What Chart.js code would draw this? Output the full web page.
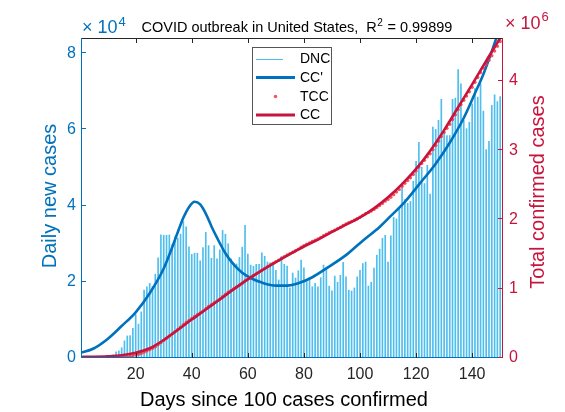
<!DOCTYPE html>
<html><head><meta charset="utf-8">
<script src="https://cdn.jsdelivr.net/npm/chart.js@4/dist/chart.umd.min.js"></script>
<style>html,body{margin:0;padding:0;background:#fff}#wrap{width:565px;height:412px;position:relative}</style>
</head><body><div id="wrap"><canvas id="c" width="565" height="412"></canvas></div>
<script>
// ---- data ----
const firstDay = 1;
// Daily new cases (thousands), days 1..150
const dnc = [0.03,0.06,0.08,0.10,0.12,0.16,0.28,0.27,0.40,0.55,
 0.65,0.85,1.6,1.9,2.7,4.5,5.8,5.9,7.8,11.4,
 8.9,12.1,17.8,18.7,19.6,18.8,22.0,26.3,32.3,32.2,
 32.2,32.3,29.8,31.8,31.5,32.5,35.8,34.4,29.2,27.2,
 27.5,27.5,25.5,29.0,33.0,29.5,26.2,29.5,26.0,28.4,
 33.5,32.5,30.0,26.0,24.9,24.7,26.4,29.1,34.8,27.3,
 24.4,24.1,24.6,24.6,27.6,26.7,25.2,25.0,24.8,23.0,
 20.5,26.6,24.6,24.1,18.4,22.3,21.0,22.9,25.7,23.7,
 20.0,21.0,18.7,19.6,18.7,21.1,24.4,23.5,18.9,17.6,
 21.5,19.9,21.7,25.1,21.3,17.8,17.6,18.4,21.3,23.0,
 24.8,25.2,18.9,19.9,23.6,27.0,28.6,31.4,32.2,25.2,
 32.1,36.9,36.5,39.0,45.9,41.6,40.6,41.1,46.4,51.6,
 56.6,50.1,45.8,50.6,43.0,60.6,60.0,62.4,67.9,59.7,
 58.4,58.4,67.9,68.2,75.7,72.0,62.4,60.2,61.9,66.7,
 70.7,68.5,72.0,64.8,54.7,56.9,66.3,69.1,67.3,68.6];
// Total confirmed cases (thousands), days 1..150
const tcc = [0.13,0.19,0.27,0.37,0.49,0.65,0.93,1.2,1.6,2.15,
 2.8,3.65,5.25,7.15,9.85,14.4,20.2,26.1,33.9,45.3,
 54.2,66.3,84.1,102.8,122.4,141.2,163.2,189.5,221.8,254,
 286.2,318.5,348.3,380.1,411.6,444.1,479.9,514.3,543.5,570.7,
 598.2,625.7,651.2,680.2,713.2,742.7,768.9,798.4,824.4,852.8,
 886.3,918.8,948.8,974.8,999.7,1024.4,1050.8,1079.9,1114.7,1142,
 1166.4,1190.5,1215.1,1239.7,1267.3,1294,1319.2,1344.2,1369,1392,
 1412.5,1439.1,1463.7,1487.8,1506.2,1528.5,1549.5,1572.4,1598.1,1621.8,
 1641.8,1662.8,1681.5,1701.1,1719.8,1740.9,1765.3,1788.8,1807.7,1825.3,
 1846.8,1866.7,1888.4,1913.5,1934.8,1952.6,1970.2,1988.6,2009.9,2032.9,
 2057.7,2082.9,2101.8,2121.7,2145.3,2172.3,2200.9,2232.3,2264.5,2289.7,
 2321.8,2358.7,2395.2,2434.2,2480.1,2521.7,2562.3,2603.4,2649.8,2701.4,
 2758,2808.1,2853.9,2904.5,2947.5,3008.1,3068.1,3130.5,3198.4,3258.1,
 3316.5,3374.9,3442.8,3511,3586.7,3658.7,3721.1,3781.3,3843.2,3909.9,
 3980.6,4049.1,4121.1,4185.9,4240.6,4297.5,4363.8,4432.9,4500.2,4568.8];
// Fitted curve CC' (thousands per day), sampled days
const ccpDays = [0,5,10,15,20,25,30,33,35,37,39,41,43,45,47,49,52,55,58,61,65,70,74,78,83,89,95,101,107,111,116,121,127,132,137,141,144,147,150];
const ccpVals = [1.3,2.5,5.0,8.4,12.0,17.0,23.5,29.0,33.0,36.8,39.6,41.0,40.3,37.9,34.6,31.6,27.5,24.5,22.4,21.0,19.8,19.0,19.0,19.6,21.2,24.0,27.0,30.8,34.4,37.3,41.0,45.5,51.0,56.5,63.0,69.5,74.5,80.5,87.0];
// Fitted curve CC (millions), sampled days
const ccDays = [0,5,10,15,20,25,30,35,40,45,50,55,60,65,70,75,80,85,90,95,100,105,110,115,120,125,130,135,140,145,150,151];
const ccVals = [0.015,0.018,0.025,0.04,0.075,0.14,0.26,0.405,0.555,0.70,0.845,0.995,1.135,1.265,1.385,1.50,1.61,1.71,1.82,1.925,2.03,2.16,2.32,2.51,2.73,2.99,3.29,3.62,3.95,4.29,4.62,4.69];
const xTicks = [20,40,60,80,100,120,140];
const yLeftTicks = [0,2,4,6,8];   // x10^4
const yRightTicks = [0,1,2,3,4];  // x10^6

const BLUE = '#0072BD', LBLUE = '#4DBEEE', CRIMSON = '#C8143C', TCCCOL = 'rgba(244,56,66,0.85)', DARK = '#262626';
const FONT = '"Liberation Sans", Arial, Helvetica, sans-serif';

const decor = {
  id: 'decor',
  afterDatasetsDraw(chart) {
    const ctx = chart.ctx, a = chart.chartArea;
    const xs = chart.scales.x, yl = chart.scales.y, yr = chart.scales.y2;
    ctx.save();
    ctx.lineWidth = 1;
    // top border
    ctx.strokeStyle = DARK;
    ctx.beginPath(); ctx.moveTo(a.left, a.top + 0.5); ctx.lineTo(a.right, a.top + 0.5); ctx.stroke();
    xTicks.forEach(v => { const px = Math.round(xs.getPixelForValue(v)) + 0.5;
      ctx.beginPath(); ctx.moveTo(px, a.top); ctx.lineTo(px, a.top + 5); ctx.stroke(); });
    // bottom
    ctx.strokeStyle = BLUE;
    ctx.beginPath(); ctx.moveTo(a.left, a.bottom - 0.5); ctx.lineTo(a.right, a.bottom - 0.5); ctx.stroke();
    ctx.strokeStyle = DARK;
    xTicks.forEach(v => { const px = Math.round(xs.getPixelForValue(v)) + 0.5;
      ctx.beginPath(); ctx.moveTo(px, a.bottom); ctx.lineTo(px, a.bottom - 5); ctx.stroke(); });
    // left axis
    ctx.strokeStyle = BLUE;
    ctx.beginPath(); ctx.moveTo(a.left + 0.5, a.top); ctx.lineTo(a.left + 0.5, a.bottom); ctx.stroke();
    yLeftTicks.forEach(v => { const py = Math.round(yl.getPixelForValue(v * 1e4)) - 0.5;
      ctx.beginPath(); ctx.moveTo(a.left, py); ctx.lineTo(a.left + 5, py); ctx.stroke(); });
    // right axis
    ctx.strokeStyle = CRIMSON;
    ctx.beginPath(); ctx.moveTo(a.right - 0.5, a.top); ctx.lineTo(a.right - 0.5, a.bottom); ctx.stroke();
    yRightTicks.forEach(v => { const py = Math.round(yr.getPixelForValue(v * 1e6)) - 0.5;
      ctx.beginPath(); ctx.moveTo(a.right, py); ctx.lineTo(a.right - 5, py); ctx.stroke(); });

    // title
    ctx.fillStyle = '#000';
    ctx.textBaseline = 'alphabetic';
    ctx.textAlign = 'left';
    ctx.font = '14.5px ' + FONT;
    let t1 = 'COVID outbreak in United States,  R';
    let tx = 141.5, ty = 31.5;
    ctx.fillText(t1, tx, ty); tx += ctx.measureText(t1).width;
    ctx.font = '10px ' + FONT; ctx.fillText('2', tx + 0.5, ty - 6); tx += ctx.measureText('2').width + 1;
    ctx.font = '14.5px ' + FONT; ctx.fillText(' = 0.99899', tx, ty);

    // exponent labels
    ctx.fillStyle = BLUE;
    ctx.font = '18px ' + FONT;
    let ex = 82, ey = 33;
    ctx.fillText('\u00D7 10', ex, ey); ex += ctx.measureText('\u00D7 10').width;
    ctx.font = '13px ' + FONT; ctx.fillText('4', ex + 1, ey - 7);
    ctx.fillStyle = CRIMSON;
    ctx.font = '18px ' + FONT;
    ex = 505; ey = 29;
    ctx.fillText('\u00D7 10', ex, ey); ex += ctx.measureText('\u00D7 10').width;
    ctx.font = '13px ' + FONT; ctx.fillText('6', ex + 1, ey - 8);

    // axis titles
    ctx.textAlign = 'center'; ctx.textBaseline = 'middle';
    ctx.font = '20px ' + FONT;
    ctx.fillStyle = BLUE;
    ctx.save(); ctx.translate(50, (a.top + a.bottom) / 2 - 2); ctx.rotate(-Math.PI / 2); ctx.fillText('Daily new cases', 0, 0); ctx.restore();
    ctx.fillStyle = CRIMSON;
    ctx.save(); ctx.translate(538, (a.top + a.bottom) / 2 - 6); ctx.rotate(-Math.PI / 2); ctx.fillText('Total confirmed cases', 0, 0); ctx.restore();
    ctx.fillStyle = '#000';
    ctx.fillText('Days since 100 cases confirmed', (a.left + a.right) / 2 - 8, 400);

    // legend
    const lx0 = 252.5, ly0 = 47.5, lx1 = 331.5, ly1 = 124.5;
    ctx.fillStyle = '#fff'; ctx.fillRect(lx0, ly0, lx1 - lx0, ly1 - ly0);
    ctx.strokeStyle = '#555'; ctx.lineWidth = 1; ctx.strokeRect(lx0, ly0, lx1 - lx0, ly1 - ly0);
    const rows = [59, 77.5, 96.5, 115];
    ctx.lineCap = 'butt';
    ctx.strokeStyle = LBLUE; ctx.lineWidth = 1;
    ctx.beginPath(); ctx.moveTo(256, rows[0] + 0.5); ctx.lineTo(283, rows[0] + 0.5); ctx.stroke();
    ctx.strokeStyle = BLUE; ctx.lineWidth = 3;
    ctx.beginPath(); ctx.moveTo(256, rows[1]); ctx.lineTo(295, rows[1]); ctx.stroke();
    ctx.fillStyle = TCCCOL; ctx.beginPath(); ctx.arc(275.5, rows[2], 1.8, 0, Math.PI * 2); ctx.fill();
    ctx.strokeStyle = CRIMSON; ctx.lineWidth = 3;
    ctx.beginPath(); ctx.moveTo(256, rows[3]); ctx.lineTo(295, rows[3]); ctx.stroke();
    ctx.fillStyle = '#000'; ctx.textAlign = 'left'; ctx.textBaseline = 'middle';
    ctx.font = '14px ' + FONT;
    ['DNC', "CC'", 'TCC', 'CC'].forEach((s, i) => ctx.fillText(s, 300, rows[i] + 0.5));
    ctx.restore();
  }
};

new Chart(document.getElementById('c'), {
  type: 'bar',
  data: { datasets: [
    { type: 'line', label: 'CC', yAxisID: 'y2', order: 1,
      data: ccDays.map((d, i) => ({ x: d, y: ccVals[i] * 1e6 })),
      borderColor: CRIMSON, borderWidth: 2.6, pointRadius: 0, cubicInterpolationMode: 'monotone', fill: false },
    { type: 'line', label: 'TCC', yAxisID: 'y2', order: 2,
      data: tcc.map((v, i) => ({ x: firstDay + i, y: v * 1000 })),
      showLine: false, pointRadius: 1.7, pointBorderWidth: 0, pointBackgroundColor: TCCCOL, pointStyle: 'circle' },
    { type: 'line', label: "CC'", yAxisID: 'y', order: 3,
      data: ccpDays.map((d, i) => ({ x: d, y: ccpVals[i] * 1000 })),
      borderColor: BLUE, borderWidth: 2.6, pointRadius: 0, cubicInterpolationMode: 'monotone', fill: false },
    { type: 'bar', label: 'DNC', yAxisID: 'y', order: 4,
      data: dnc.map((v, i) => ({ x: firstDay + i, y: v * 1000 })),
      backgroundColor: LBLUE, barThickness: 1, borderWidth: 0 }
  ]},
  options: {
    responsive: false, animation: false, devicePixelRatio: 1,
    layout: { padding: { top: 38, left: 0, right: 0, bottom: 0 } },
    plugins: { legend: { display: false }, tooltip: { enabled: false }, title: { display: false } },
    scales: {
      x: { type: 'linear', position: 'bottom', min: 0.5, max: 151, offset: false,
        afterBuildTicks: s => { s.ticks = xTicks.map(v => ({ value: v })); },
        afterFit: s => { s.height = 54; },
        grid: { display: false, drawTicks: false }, border: { display: false },
        ticks: { color: DARK, font: { family: FONT, size: 16 }, padding: 7, maxRotation: 0, autoSkip: false } },
      y: { type: 'linear', position: 'left', min: 0, max: 84000,
        afterBuildTicks: s => { s.ticks = yLeftTicks.map(v => ({ value: v * 1e4 })); },
        afterFit: s => { s.width = 81; },
        grid: { display: false, drawTicks: false }, border: { display: false },
        ticks: { color: BLUE, font: { family: FONT, size: 16 }, padding: 5, callback: v => String(v / 1e4) } },
      y2: { type: 'linear', position: 'right', min: 0, max: 4.62e6,
        afterBuildTicks: s => { s.ticks = yRightTicks.map(v => ({ value: v * 1e6 })); },
        afterFit: s => { s.width = 62; },
        grid: { display: false, drawTicks: false }, border: { display: false },
        ticks: { color: CRIMSON, font: { family: FONT, size: 16 }, padding: 6, callback: v => String(v / 1e6) } }
    }
  },
  plugins: [decor]
});
</script></body></html>
